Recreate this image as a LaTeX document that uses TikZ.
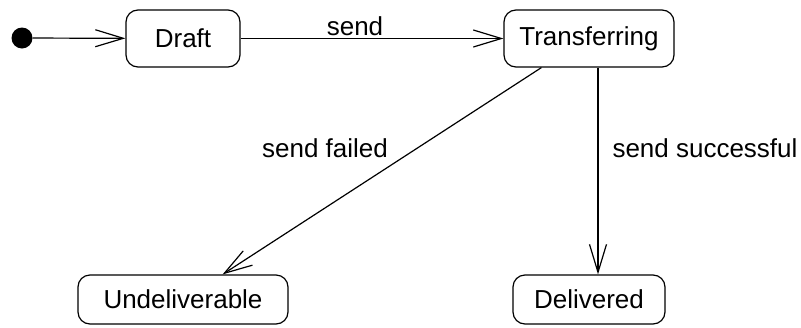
\documentclass[tikz,border=0pt]{standalone}
\usepackage{fontspec}
\setmainfont{Liberation Sans}
\usetikzlibrary{arrows.meta}
\begin{document}
\begin{tikzpicture}[x=1pt,y=-1pt,
  state/.style={draw,line width=1.2pt,rounded corners=12pt,inner sep=0pt,align=center},
  trans/.style={line width=1.2pt,-{Straight Barb[length=28pt,width=17pt,line width=1.2pt]}},
  lbl/.style={inner sep=0pt},
  font=\fontsize{26}{30}\selectfont]
\useasboundingbox (0,0) rectangle (801,327);
\node[circle,fill=black,inner sep=0pt,minimum size=21pt] (init) at (22,38) {};
\node[state,minimum width=114pt,minimum height=57pt] (draft) at (183,38.5) {Draft};
\node[state,minimum width=170pt,minimum height=57pt] (tr) at (589,38.5) {Transferring};
\node[state,minimum width=210pt,minimum height=49pt] (und) at (183,299.5) {Undeliverable};
\node[state,minimum width=152pt,minimum height=49pt] (del) at (589,299.5) {Delivered};
\draw[trans] (init) -- (draft);
\draw[trans] (draft) -- (tr);
\draw[trans] ([xshift=38pt]tr.south west) -- ([xshift=-66pt]und.north east);
\draw[trans] ([xshift=9pt]tr.south) -- ([xshift=9pt]del.north);
\node[lbl] (l1) at (355,26) {send};
\node[lbl] (l2) at (325,148) {send failed};
\node[lbl] (l3) at (705,148) {send successful};
\end{tikzpicture}
\end{document}
